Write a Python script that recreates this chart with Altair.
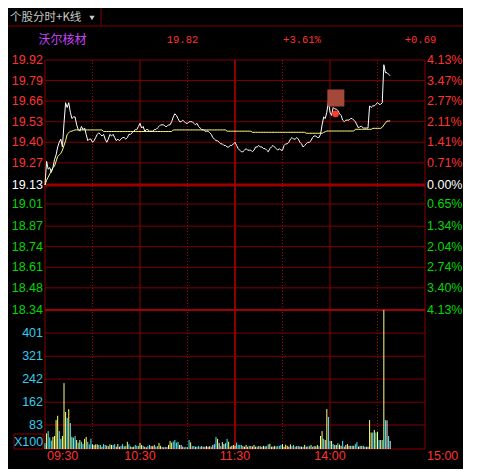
import altair as alt
import pandas as pd

# ---------------- data ----------------
# minute index: 0 = 09:30 ... 120 = 11:30/13:00 ... 240 = 15:00 (last point 14:38)
price = [
    19.13, 19.28, 19.23, 19.24, 19.21, 19.24, 19.29, 19.32, 19.37, 19.40,
    19.42, 19.37, 19.52, 19.65, 19.62, 19.65, 19.59, 19.55, 19.56, 19.56,
    19.51, 19.48, 19.47, 19.50, 19.48, 19.49, 19.45, 19.41, 19.42, 19.42,
    19.40, 19.41, 19.43, 19.45, 19.46, 19.45, 19.44, 19.45, 19.42, 19.40,
    19.42, 19.45, 19.44, 19.45, 19.43, 19.41, 19.42, 19.41, 19.42, 19.43,
    19.43, 19.42, 19.43, 19.45, 19.45, 19.46, 19.47, 19.48, 19.48, 19.50,
    19.52, 19.49, 19.50, 19.47, 19.48, 19.48, 19.47, 19.47, 19.47, 19.48,
    19.48, 19.49, 19.50, 19.51, 19.51, 19.51, 19.50, 19.50, 19.51, 19.51,
    19.53, 19.56, 19.58, 19.57, 19.55, 19.53, 19.53, 19.54, 19.53, 19.52,
    19.52, 19.53, 19.53, 19.53, 19.52, 19.51, 19.52, 19.50, 19.49, 19.48,
    19.48, 19.47, 19.47, 19.47, 19.46, 19.45, 19.43, 19.42, 19.41, 19.41,
    19.40, 19.39, 19.39, 19.38, 19.38, 19.37, 19.37, 19.38, 19.38, 19.39,
    19.40, 19.38, 19.36, 19.35, 19.34, 19.34, 19.35, 19.36, 19.35, 19.35,
    19.35, 19.34, 19.35, 19.37, 19.37, 19.38, 19.37, 19.37, 19.36, 19.36,
    19.35, 19.34, 19.36, 19.37, 19.38, 19.37, 19.36, 19.35, 19.36, 19.35,
    19.35, 19.38, 19.39, 19.39, 19.40, 19.42, 19.43, 19.42, 19.42, 19.43,
    19.42, 19.40, 19.39, 19.37, 19.38, 19.39, 19.40, 19.40, 19.41, 19.43,
    19.44, 19.44, 19.43, 19.43, 19.45, 19.51, 19.56, 19.55, 19.59, 19.66,
    19.59, 19.57, 19.62, 19.61, 19.61, 19.60, 19.58, 19.57, 19.54, 19.53,
    19.54, 19.54, 19.54, 19.55, 19.55, 19.54, 19.53, 19.51, 19.49, 19.50,
    19.50, 19.49, 19.49, 19.49, 19.49, 19.63, 19.62, 19.63, 19.63, 19.64,
    19.65, 19.64, 19.64, 19.65, 19.89, 19.84, 19.84, 19.83, 19.82,
]

avg_price = [
    19.130, 19.160, 19.180, 19.200, 19.220, 19.240, 19.250, 19.280, 19.310, 19.320,
    19.330, 19.350, 19.380, 19.410, 19.450, 19.460, 19.470, 19.470, 19.475, 19.478,
    19.478, 19.478, 19.478, 19.478, 19.478, 19.478, 19.478, 19.478, 19.478, 19.478,
    19.478, 19.478, 19.478, 19.478, 19.478, 19.478, 19.478, 19.468, 19.468, 19.468,
    19.468, 19.468, 19.468, 19.468, 19.468, 19.468, 19.468, 19.468, 19.468, 19.468,
    19.468, 19.468, 19.468, 19.468, 19.468, 19.468, 19.468, 19.468, 19.468, 19.468,
    19.468, 19.468, 19.468, 19.468, 19.468, 19.468, 19.468, 19.468, 19.468, 19.468,
    19.468, 19.468, 19.468, 19.468, 19.468, 19.468, 19.468, 19.468, 19.468, 19.468,
    19.468, 19.478, 19.478, 19.478, 19.478, 19.478, 19.478, 19.478, 19.478, 19.478,
    19.478, 19.478, 19.478, 19.478, 19.478, 19.478, 19.478, 19.478, 19.478, 19.478,
    19.478, 19.478, 19.478, 19.478, 19.478, 19.478, 19.478, 19.478, 19.478, 19.478,
    19.478, 19.478, 19.478, 19.478, 19.478, 19.470, 19.470, 19.470, 19.470, 19.470,
    19.470, 19.470, 19.470, 19.470, 19.470, 19.470, 19.470, 19.470, 19.470, 19.470,
    19.470, 19.463, 19.463, 19.463, 19.463, 19.463, 19.463, 19.463, 19.463, 19.463,
    19.463, 19.463, 19.463, 19.463, 19.463, 19.463, 19.463, 19.463, 19.463, 19.463,
    19.463, 19.463, 19.463, 19.463, 19.463, 19.463, 19.463, 19.463, 19.463, 19.463,
    19.463, 19.463, 19.463, 19.463, 19.463, 19.457, 19.457, 19.457, 19.457, 19.457,
    19.457, 19.457, 19.457, 19.457, 19.457, 19.457, 19.462, 19.467, 19.471, 19.471,
    19.471, 19.471, 19.471, 19.471, 19.471, 19.471, 19.471, 19.471, 19.471, 19.471,
    19.471, 19.471, 19.471, 19.471, 19.471, 19.471, 19.482, 19.482, 19.482, 19.482,
    19.482, 19.482, 19.482, 19.482, 19.482, 19.482, 19.482, 19.488, 19.488, 19.488,
    19.488, 19.488, 19.488, 19.495, 19.509, 19.522, 19.534, 19.534, 19.535,
]

volume = [
    20, 54, 62, 40, 29, 42, 45, 100, 115, 62,
    35, 45, 228, 128, 108, 138, 90, 42, 39, 45,
    31, 22, 31, 25, 18, 35, 42, 25, 16, 35,
    16, 14, 16, 16, 14, 14, 8, 17, 14, 12,
    10, 16, 14, 14, 17, 8, 17, 8, 11, 17,
    9, 11, 25, 16, 9, 7, 8, 14, 11, 11,
    21, 14, 11, 8, 6, 10, 14, 10, 10, 14,
    8, 10, 21, 11, 7, 6, 7, 7, 14, 28,
    22, 26, 31, 22, 25, 14, 14, 8, 6, 8,
    6, 31, 23, 10, 10, 8, 8, 10, 8, 10,
    8, 8, 10, 8, 10, 8, 14, 17, 42, 35,
    21, 10, 24, 17, 20, 35, 25, 8, 11, 14,
    11, 22, 14, 14, 14, 10, 8, 14, 8, 11,
    10, 9, 14, 8, 8, 10, 10, 8, 11, 9,
    10, 16, 18, 8, 8, 11, 9, 10, 11, 14,
    17, 8, 15, 11, 8, 16, 10, 14, 8, 10,
    10, 9, 8, 8, 14, 8, 9, 10, 14, 8,
    10, 9, 14, 10, 45, 62, 35, 31, 138, 111,
    28, 28, 17, 14, 14, 20, 15, 11, 28, 8,
    14, 17, 11, 11, 11, 11, 17, 24, 8, 11,
    11, 11, 8, 8, 8, 100, 57, 57, 66, 57,
    60, 31, 31, 31, 481, 100, 99, 45, 28,
]

# Y = price up in that minute, C = down, W = unchanged
vol_dir = list(
    "CYCCCYYYYC" "CYYYCYCYCC" "YCYCCYYCCC" "WYYYCCYCCY" "CYYCCYWYCC"
    "YCYCCYYCCC" "YYCYWCCWYY" "CCYYCWCCYY" "YCCCCYWWCC" "CCYCCWCCCW"
    "CYWWYCWCCY" "WCWYCCYYWY" "YCCCCYWYWC" "YWYWCYCYWW" "CCYYWYCCCC"
    "YYYYWYCCCW" "CYWCYWCCYC" "WYYCYYCWYC" "CYCWYCYWCW" "WYYCWYCCWY"
    "CWCWWYYCYC" "YCYCYCWCW"
)

minutes = list(range(len(price)))

price_ticks = [19.92, 19.79, 19.66, 19.53, 19.40, 19.27, 19.13,
               19.01, 18.87, 18.74, 18.61, 18.48, 18.34]
price_labels = ["19.92", "19.79", "19.66", "19.53", "19.40", "19.27", "19.13",
                "19.01", "18.87", "18.74", "18.61", "18.48", "18.34"]
pct_labels = ["4.13%", "3.47%", "2.77%", "2.11%", "1.41%", "0.71%", "0.00%",
              "0.65%", "1.34%", "2.04%", "2.74%", "3.40%", "4.13%"]
prev_close = 19.13
vol_ticks = [401, 321, 242, 162, 83]
vol_max = 481
vol_unit = "X100"

time_ticks = [0, 60, 120, 180, 240]
time_labels = ["09:30", "10:30", "11:30", "14:00", "15:00"]
solid_minutes = [0, 60, 180, 240]
break_minutes = [120]
dotted_minutes = [30, 90, 150, 210]

stock_name = "沃尔核材"
last_price = "19.82"
pct_change = "+3.61%"
change = "+0.69"
tab_title = "个股分时+K线"

marker_minute = [183.7]
marker_price = [19.68]
dot_minute = [183.5]
dot_price = [19.58]

# ---------------- chart ----------------
FONT = "Liberation Sans"
GRID = "#7d0000"
RED = "#ff3232"
GREEN = "#00d800"
CYAN = "#33ccee"

xs = alt.Scale(domain=[0, 240], nice=False, zero=False)
ps = alt.Scale(domain=[18.34, 19.92], range=[250, 0], nice=False, zero=False)
vs = alt.Scale(domain=[0, vol_max], range=[389, 250], nice=False, zero=False)


def X(f):
    return alt.X(f, scale=xs, axis=None)


def PY(f):
    return alt.Y(f, scale=ps, axis=None)


def VY(f):
    return alt.Y(f, scale=vs, axis=None)


df = pd.DataFrame({"minute": minutes, "price": price, "avg": avg_price,
                   "vol": volume, "dir": vol_dir})
ticks = pd.DataFrame({"price": price_ticks, "label": price_labels, "pct": pct_labels})
times = pd.DataFrame({"minute": time_ticks, "label": time_labels})
one = pd.DataFrame({"name": [stock_name], "last": [last_price], "pct": [pct_change],
                    "chg": [change], "tab": [tab_title], "unit": [vol_unit]})

side_expr = (f"datum.price > {prev_close} + 0.001 ? '{RED}' : "
             f"(datum.price < {prev_close} - 0.001 ? '{GREEN}' : '#ffffff')")
bar_expr = "datum.dir == 'Y' ? '#ffff7a' : (datum.dir == 'C' ? '#4ff0ff' : '#f0f0f0')"

hgrid = alt.Chart(ticks).transform_filter(
    f"datum.price != {prev_close} && datum.price != 18.34"
).mark_rule(color=GRID, strokeWidth=1).encode(y=PY("price:Q"))
center = alt.Chart(ticks).transform_filter(f"datum.price == {prev_close}").mark_rule(
    color="#9a0000", strokeWidth=3).encode(y=PY("price:Q"))
sep = alt.Chart(ticks).transform_filter("datum.price == 18.34").mark_rule(
    color="#a00000", strokeWidth=2).encode(y=PY("price:Q"))

vsolid = alt.Chart(pd.DataFrame({"minute": solid_minutes})).mark_rule(
    color="#8b0000", strokeWidth=1).encode(x=X("minute:Q"))
vbreak = alt.Chart(pd.DataFrame({"minute": break_minutes})).mark_rule(
    color="#8b0000", strokeWidth=2).encode(x=X("minute:Q"))
vdot = alt.Chart(pd.DataFrame({"minute": dotted_minutes})).mark_rule(
    color="#b00000", strokeWidth=1, strokeDash=[1, 2]).encode(x=X("minute:Q"))

avg_line = alt.Chart(df).mark_line(color="#ffff80", strokeWidth=1).encode(
    x=X("minute:Q"), y=PY("avg:Q"))
price_line = alt.Chart(df).mark_line(color="#ffffff", strokeWidth=1).encode(
    x=X("minute:Q"), y=PY("price:Q"))

icon = alt.Chart(pd.DataFrame({"minute": marker_minute, "price": marker_price})).mark_point(
    shape="square", filled=True, size=290, color="#a4483a", opacity=1).encode(
    x=X("minute:Q"), y=PY("price:Q"))
dot = alt.Chart(pd.DataFrame({"minute": dot_minute, "price": dot_price})).mark_point(
    shape="circle", filled=True, size=45, color="#ff3a2a", opacity=1).encode(
    x=X("minute:Q"), y=PY("price:Q"))

left_lab = alt.Chart(ticks).transform_calculate(col=side_expr).mark_text(
    align="right", baseline="middle", font=FONT, fontSize=12.5).encode(
    x=alt.value(-2), y=PY("price:Q"), text="label:N",
    color=alt.Color("col:N", scale=None))
right_lab = alt.Chart(ticks).transform_calculate(col=side_expr).mark_text(
    align="left", baseline="middle", font=FONT, fontSize=12.5).encode(
    x=alt.value(382), y=PY("price:Q"), text="pct:N",
    color=alt.Color("col:N", scale=None))

TY = 396
tfirst = alt.Chart(times).transform_filter("datum.minute == 0").mark_text(
    align="left", baseline="middle", font=FONT, fontSize=12.5, color=RED, dx=2).encode(
    x=X("minute:Q"), y=alt.value(TY), text="label:N")
tmid = alt.Chart(times).transform_filter("datum.minute > 0 && datum.minute < 240").mark_text(
    align="center", baseline="middle", font=FONT, fontSize=12.5, color=RED).encode(
    x=X("minute:Q"), y=alt.value(TY), text="label:N")
tlast = alt.Chart(times).transform_filter("datum.minute == 240").mark_text(
    align="left", baseline="middle", font=FONT, fontSize=12.5, color=RED, dx=2).encode(
    x=X("minute:Q"), y=alt.value(TY), text="label:N")

MONO = "Liberation Mono"
h_name = alt.Chart(one).mark_text(align="center", baseline="middle",
                                  font="Noto Sans CJK SC", fontSize=12, color="#cc44ff").encode(
    x=alt.value(17.5), y=alt.value(-20), text="name:N")
h_last = alt.Chart(one).mark_text(align="center", baseline="middle", font=MONO,
                                  fontSize=10.5, color=RED).encode(
    x=alt.value(137.5), y=alt.value(-20), text="last:N")
h_pct = alt.Chart(one).mark_text(align="center", baseline="middle", font=MONO,
                                 fontSize=10.5, color=RED).encode(
    x=alt.value(257), y=alt.value(-20), text="pct:N")
h_chg = alt.Chart(one).mark_text(align="center", baseline="middle", font=MONO,
                                 fontSize=10.5, color=RED).encode(
    x=alt.value(375.5), y=alt.value(-20), text="chg:N")
h_tab = alt.Chart(one).mark_text(align="left", baseline="middle",
                                 font="Noto Sans CJK SC", fontSize=11.5, color="#c8c8c8").encode(
    x=alt.value(-35), y=alt.value(-42), text="tab:N")
h_arrow = alt.Chart(one).mark_point(shape="triangle-down", filled=True, size=28,
                                    color="#c8c8c8", opacity=1).encode(
    x=alt.value(47), y=alt.value(-42))
h_line = alt.Chart(one).mark_rule(color="#7d0000", strokeWidth=1).encode(
    x=alt.value(-37), x2=alt.value(418), y=alt.value(-34))
h_div = alt.Chart(one).mark_rule(color="#7d0000", strokeWidth=1).encode(
    x=alt.value(56), y=alt.value(-60), y2=alt.value(-34))

price_group = alt.layer(
    hgrid, vdot, vsolid, vbreak, center, sep,
    avg_line, price_line, icon, dot,
    left_lab, right_lab, tfirst, tmid, tlast,
    h_line, h_div, h_tab, h_arrow, h_name, h_last, h_pct, h_chg,
)

vgrid = alt.Chart(pd.DataFrame({"vol": vol_ticks})).mark_rule(
    color=GRID, strokeWidth=1).encode(y=VY("vol:Q"))
vbase = alt.Chart(pd.DataFrame({"vol": [0]})).mark_rule(
    color="#8b0000", strokeWidth=1).encode(y=VY("vol:Q"))
bars = alt.Chart(df).transform_calculate(col=bar_expr).mark_rule(strokeWidth=1).encode(
    x=X("minute:Q"), y=VY("vol:Q"), y2=alt.datum(0),
    color=alt.Color("col:N", scale=None))
vlab = alt.Chart(pd.DataFrame({"vol": vol_ticks})).mark_text(
    align="right", baseline="middle", font=FONT, fontSize=12.5, color=CYAN).encode(
    x=alt.value(-2), y=VY("vol:Q"), text="vol:Q")
unit_box = alt.Chart(one).mark_rect(filled=False, stroke="#8b0000", strokeWidth=1).encode(
    x=alt.value(-31), x2=alt.value(-2), y=alt.value(374), y2=alt.value(389))
unit_txt = alt.Chart(one).mark_text(align="center", baseline="middle", font=FONT,
                                    fontSize=12.5, color=CYAN).encode(
    x=alt.value(-16.5), y=alt.value(382), text="unit:N")

vol_group = alt.layer(vgrid, vbase, bars, vlab, unit_box, unit_txt)

chart = alt.layer(price_group, vol_group).resolve_scale(y="independent").properties(
    width=380, height=389,
    padding={"left": 37, "top": 52, "right": 38, "bottom": 20},
    autosize=alt.AutoSizeParams(type="none"),
    background="#000000",
).configure_view(stroke=None)

chart.save("out.html", embed_options={"renderer": "svg", "actions": False})
